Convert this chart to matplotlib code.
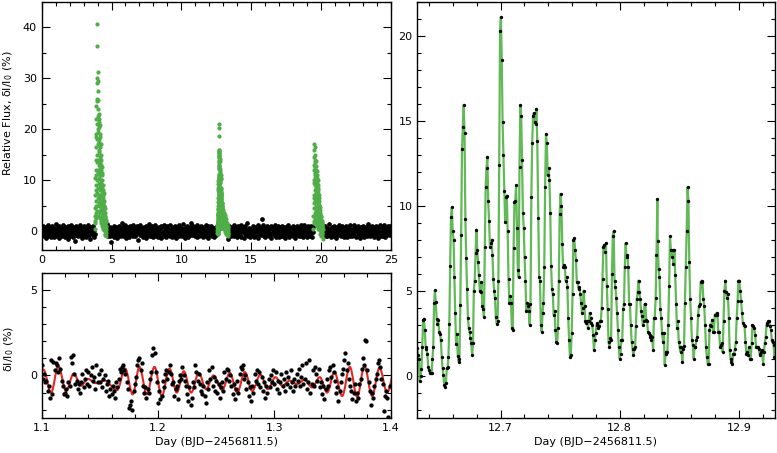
import matplotlib

matplotlib.use('Agg')

import matplotlib.pyplot as plt
import numpy as np
from matplotlib.path import Path
from matplotlib.patches import PathPatch
from matplotlib.ticker import FormatStrFormatter, MultipleLocator

# ---------------- top-left: 25 day light curve ----------------
# quiescent flux (black), four stretches between the bursts
quiet_bounds = [(0.0, 3.80), (4.62, 12.55), (13.37, 19.45), (20.22, 25.0)]
quiet_counts = [108, 224, 172, 136]
quiet_flux = [
    0.4, -0.7, 1.1, -0.2, -1.0, 0.3, 0.8, -0.5, 0.0, -1.3, 0.6, -0.3, 1.2, -0.9, 0.2, -0.1, 0.9, -0.6, 0.5, -1.1,
    -0.4, 1.0, -0.8, 0.1, 0.7, -1.2, 0.3, -0.5, 1.4, -0.2, -0.9, 0.6, 0.0, -0.7, 1.1, -1.4, 0.4, 0.2, -0.3, 0.8,
    -1.0, 0.5, -0.1, 1.3, -0.6, 0.2, -1.1, 0.9, -0.4, 0.6, -0.8, 0.1, 1.0, -1.5, 0.3, -0.2, 0.7, -0.9, 0.4, -0.5,
    1.2, -0.3, 0.0, -1.2, 0.8, -0.6, 0.5, -2.0, 0.3, 1.1, -0.7, 0.2, -0.4, 0.9, -1.0, 0.6, -0.1, 1.3, -0.8, 0.1,
    -0.6, 0.7, -1.3, 0.4, -0.2, 1.0, -0.9, 0.3, -0.5, 0.8, -1.1, 0.0, 0.6, -0.4, 1.2, -0.7, 0.2, -1.6, 0.5, -0.3,
    0.9, -0.1, 0.4, -0.8, 1.1, -1.2, 0.2, -0.5, 0.7, -0.3, 1.4, -0.9, 0.1, -0.6, 0.5, -1.0, 0.8, -0.2, -2.2, 0.3,
    -0.8, 0.6, -0.3, 1.0, -1.1, 0.4, -0.7, 0.2, 0.9, -0.4, -1.3, 0.5, -0.1, 1.1, -0.6, 0.3, -0.9, 0.7, -0.2, 1.5,
    0.1, -1.0, 0.8, -0.5, 0.3, -0.2, 1.2, -1.4, 0.6, -0.7, 0.0, 0.9, -0.3, 0.4, -1.2, 1.0, -0.6, 0.2, -0.8, 0.5,
    -0.2, 1.3, -0.9, 0.5, -0.4, 0.7, -1.0, 0.1, -0.6, 1.1, -0.3, 0.4, -1.7, 0.8, -0.1, 0.6, -0.8, 1.2, -0.5, 0.0,
    0.7, -0.6, 0.2, -1.1, 0.9, -0.3, 0.5, -0.8, 1.0, -1.3, 0.3, -0.2, 0.8, -0.7, 0.1, 1.4, -1.0, 0.4, -0.4, -0.9,
    1.0, -0.4, -1.2, 0.6, 0.1, -0.7, 1.3, -0.2, 0.4, -0.9, 0.7, -0.5, 0.0, -1.1, 0.9, -0.3, 0.5, -0.6, 1.1, -1.4,
    -0.5, 0.8, -0.1, -1.0, 1.2, -0.6, 0.3, -0.3, 0.6, -1.2, 0.2, 1.0, -0.8, 0.5, -0.4, 0.1, -0.9, 1.3, -0.2, 0.4,
    0.3, -1.1, 0.9, -0.4, 0.0, 0.7, -0.7, 1.1, -1.3, 0.5, -0.2, 0.8, -0.6, 0.2, 1.2, -1.0, 0.4, -0.5, 0.6, -0.1,
    -0.9, 0.2, 1.4, -0.6, 0.5, -0.3, -1.4, 0.7, 0.1, -0.8, 1.0, -0.2, 0.3, -1.1, 0.6, -0.5, 0.9, -0.7, 0.0, 1.6,
    0.5, -0.8, 0.1, 1.1, -0.5, 0.4, -1.0, 0.8, -0.3, 0.2, -1.2, 1.3, -0.6, 0.0, 0.7, -0.9, 0.3, -0.4, 1.0, -0.7,
    -0.3, 0.6, -1.2, 0.2, 0.9, -0.6, 0.4, -0.1, -0.9, 1.2, -0.4, 0.5, -0.8, 1.0, -1.3, 0.3, -0.2, 0.8, -0.5, 0.1,
    1.1, -0.9, 0.3, -0.5, 0.7, -1.1, 0.0, 0.6, -0.3, 0.9, -0.7, 0.2, -1.5, 0.4, 1.0, -0.2, 0.5, -1.0, 0.8, -0.6,
    -0.1, 0.4, -0.7, 1.3, -1.0, 0.2, 0.8, -0.4, 0.5, -1.2, 0.1, -0.6, 1.1, -0.3, 0.7, -0.8, 0.0, 1.2, -1.1, 0.3,
    0.6, -0.2, 0.9, -1.3, 0.4, -0.5, 1.0, -0.8, 0.2, -0.1, 1.5, -0.9, 0.3, -0.6, 0.7, -1.2, 0.5, -0.3, 0.1, -0.7,
    -0.7, 1.0, -0.4, 0.3, -1.1, 0.8, -0.2, 0.5, -0.9, 0.1, 0.6, -1.4, 1.2, -0.5, 0.2, -0.3, 0.9, -0.8, 0.4, 2.3,
    0.2, -0.6, 1.2, -0.9, 0.5, -0.1, -1.2, 0.7, -0.4, 1.0, -0.7, 0.3, -0.2, 0.8, -1.0, 0.4, -0.5, 1.1, -1.3, 0.6,
    -0.4, 0.9, -0.3, 0.1, -0.8, 1.3, -0.6, 0.4, -1.1, 0.7, 0.0, -0.5, 1.0, -1.2, 0.3, -0.2, 0.8, -0.9, 0.5, -0.1,
    1.0, -1.0, 0.5, -0.3, 0.8, -0.7, 0.2, -1.4, 0.9, -0.1, 0.4, -0.6, 1.2, -0.4, 0.1, -1.1, 0.6, -0.2, 0.7, -0.8,
    -0.6, 0.3, -0.9, 1.1, -0.2, 0.6, -1.3, 0.2, 0.9, -0.5, -0.8, 1.0, -0.3, 0.5, -1.0, 0.7, -0.4, 0.2, 1.3, -0.9,
    0.4, -0.5, 0.7, -1.1, 0.0, 1.2, -0.7, 0.3, -0.2, 0.8, -1.2, 0.5, -0.6, 1.0, -0.1, 0.3, -0.9, 0.6, -0.4, 1.1,
    -1.2, 0.6, -0.2, 0.9, -0.6, 0.1, 1.1, -0.9, 0.4, -0.3, 0.7, -1.0, 0.2, -0.5, 1.4, -0.8, 0.0, 0.5, -1.1, 0.3,
    0.8, -0.3, -1.0, 0.5, -0.7, 1.0, -0.1, 0.3, -1.3, 0.6, -0.4, 0.9, -0.8, 0.2, -0.2, 1.2, -0.6, 0.4, -0.9, 0.1,
    -0.2, 1.1, -0.8, 0.3, 0.6, -1.1, 0.5, -0.4, 1.0, -0.6, 0.1, -1.2, 0.8, -0.3, 0.4, -0.7, 1.3, -1.0, 0.2, -0.5,
    0.5, -0.9, 0.2, -0.4, 1.2, -0.7, 0.0, 0.8, -1.1, 0.3, -0.2, 0.7, -0.9, 1.1, -0.5, 0.4, -1.3, 0.6, -0.1, 0.9,
    -0.8, 0.4, -0.3, 1.0, -1.2, 0.6, -0.5, 0.2, 0.9, -0.7, 0.3, -1.0, 1.4, -0.2, 0.5, -0.6, 0.1, -0.9, 0.8, -0.4,
    0.1, -0.7, 1.1, -0.3, 0.5, -1.1, 0.7, -0.2, 0.4, -0.8, 1.0, -0.5, 0.0, -1.4, 0.9, -0.1, 0.6, -0.6, 1.2, -1.0,
    -0.5, 0.8, -0.2, 0.3, -0.9, 1.3, -0.4, 0.6, -1.2, 0.2, 0.7, -0.3, -0.8, 1.0, -0.6, 0.4, -0.1, 1.1, -0.7, 0.5,
]

# burst 1 (day ~3.8-4.6)
burst1_span = (3.82, 4.60)
burst1_flux = [
    0.5, 2.0, 4.5, 1.5, 7.0, 3.0, 10.5, 5.0, 14.0, 2.5, 12.0, 8.0,
    18.5, 6.0, 22.0, 11.0, 3.5, 16.5, 24.5, 9.0, 19.0, 4.0, 25.5, 13.5, 7.5, 21.0, 29.0, 15.0,
    10.0, 30.0, 36.3, 40.6, 18.0, 26.0, 5.0, 31.2, 22.5, 12.0, 29.5, 17.0, 8.5, 27.5, 20.0, 14.0,
    24.0, 6.5, 19.5, 25.8, 11.5, 3.0, 21.5, 16.0, 9.5, 23.0, 13.0, 5.5, 20.5, 18.0, 7.0, 15.5,
    22.0, 10.5, 4.0, 17.5, 12.5, 19.0, 6.0, 14.5, 2.5, 20.8, 9.0, 16.5, 11.0, 5.0, 18.5, 8.0,
    13.5, 3.5, 15.0, 10.0, 6.5, 17.0, 2.0, 12.0, 8.5, 14.0, 4.5, 11.5, 7.0, 1.5, 13.0, 9.5,
    5.5, 11.0, 3.0, 9.0, 12.5, 6.0, 1.0, 10.0, 7.5, 2.5, 8.5, 4.0, 11.5, 5.0, 0.5, 7.0,
    9.0, 3.5, 6.5, 1.5, 8.0, 4.5, 2.0, 7.0, 5.5, 0.8, 6.0, 3.0, 4.0, 7.5, 1.0, 5.0,
    2.5, 4.5, 0.5, 6.0, 3.5, 1.5, 5.0, 2.0, 3.0, 0.2, 4.0, 1.0, 2.8, 4.5, -0.5, 2.0,
    3.5, 1.2, 0.0, 2.5, 1.8, -0.8, 3.0, 0.5, 1.5, 2.2, -0.3, 1.0, 0.3, 1.8, -1.0, 0.6,
]

# burst 3 (day ~19.5-20.1)
burst3_span = (19.46, 20.12)
burst3_flux = [
    0.5, 3.0, 6.5, 2.0, 9.5, 4.5, 12.0, 1.5, 14.5, 7.0, 16.0, 10.0,
    17.0, 5.5, 13.0, 16.5, 8.0, 11.5, 15.0, 3.5, 12.5, 9.0, 14.0, 6.0, 10.5, 13.5, 2.5, 11.0,
    7.5, 12.0, 4.0, 13.8, 9.5, 1.5, 11.0, 6.5, 12.8, 3.0, 8.5, 10.0, 5.0, 11.8, 2.0, 9.0,
    6.0, 10.5, 3.5, 8.0, 11.0, 1.0, 7.0, 9.5, 4.5, 2.5, 8.5, 5.5, 10.0, 0.5, 6.5, 3.0,
    7.5, 4.0, 9.0, 1.5, 5.5, 8.0, 2.5, 6.0, 3.5, 7.0, 0.8, 4.5, 5.0, 2.0, 6.5, 1.2,
    3.8, 5.2, 0.5, 4.0, 2.5, 4.8, 1.0, 3.2, -0.5, 2.8, 4.2, 1.5, 3.0, 0.2, 2.2, 3.6,
    1.0, 2.5, -1.0, 3.0, 1.8, 0.4, 2.2, -0.2, 1.5, 2.8, 0.0, 1.2, -0.6, 2.0, 0.8, 1.6,
    -0.3, 1.4, 0.6, 2.0, -0.8, 1.0, 0.2, 1.7, -0.4, 0.9, 0.3, 1.2, -1.5, 0.5,
]

# burst 2 around the zoomed window (before / after the right panel range)
burst2_pre_span = (12.56, 12.625)
burst2_pre_flux = [0.3, 1.2, -0.4, 0.8, 1.6, 0.1, 1.0, 2.0]
burst2_post_span = (12.935, 13.35)
burst2_post_flux = [
    2.8, 1.5, 3.4, 2.0, 0.9, 2.6, 3.8, 1.2, 2.2, 4.2, 1.8, 0.6, 3.0, 2.4, 1.0, 3.5, 2.1, 0.4, 2.9, 1.6,
    1.1, 2.7, 0.8, 3.2, 1.9, 0.3, 2.3, 1.4, 2.8, 0.7, 1.7, -0.2, 2.0, 1.2, 0.5, 2.4, 1.0, -0.5, 1.6, 0.9,
    0.2, 1.8, 1.1, -0.3, 1.4, 0.6, -0.8, 1.2, 0.4, 0.9, -0.1, 1.5, 0.3, -0.6, 0.8, 0.1, 1.0, -0.4, 0.5, -1.0,
]

# ---------------- right: zoom on burst 2 ----------------
zoom_spans = [(12.62994, 12.73078), (12.73162, 12.83162), (12.83191, 12.92994)]
zoom_flux_a = [
    1.64, 1.21, 0.98, -0.31, 0.0, 0.38, 1.7, 3.26, 3.36, 2.68, 1.7, 1.6, 1.3, 0.53, 0.33, 0.18, 0.14, 0.14, 0.96, 1.7,
    4.26, 5.02, 4.33, 3.36, 3.07, 3.26, 2.58, 2.48, 2.1, 1.12, 0.43, 0.04, -0.54, -0.64, -0.4, 0.43, 0.5, 1.12, 3.07, 6.45,
    9.32, 9.9, 8.5, 8.0, 5.8, 3.67, 1.86, 2.43, 1.17, 0.84, 0.97, 4.14, 8.27, 13.33, 14.64, 15.93, 14.25, 9.2, 6.9, 5.1,
    3.4, 2.8, 2.55, 2.2, 1.9, 1.2, 1.9, 5.0, 5.6, 7.2, 8.6, 7.4, 6.7, 5.9, 5.0, 4.9, 5.5, 4.1, 3.9, 3.45,
    7.6, 11.1, 12.25, 12.87, 10.3, 9.12, 7.6, 7.8, 8.0, 7.1, 5.7, 5.0, 4.6, 3.45, 3.07, 3.2, 5.6, 12.4, 20.3, 21.1,
    18.6, 14.9, 13.0, 10.86, 9.05, 10.5, 10.6, 8.5, 5.7, 4.3, 4.7, 4.3, 2.8, 2.7, 7.5, 10.2, 10.3, 11.2, 8.7, 6.2,
    5.8, 12.3, 15.9, 15.3, 12.7, 9.6, 8.7, 7.0, 5.6, 3.8, 4.3, 4.1, 3.8, 3.0, 4.2, 10.5, 13.7, 15.3, 15.45, 14.9,
    14.8, 15.7, 13.8,
]
zoom_flux_b = [
    9.3, 5.8, 5.6, 3.0, 2.6, 3.7, 4.3, 6.4, 11.1, 14.2, 13.7, 11.8, 12.2, 11.5, 9.6, 6.45, 5.1, 4.8, 3.6, 3.8,
    2.7, 2.0, 1.9, 2.8, 5.6, 9.5, 10.7, 10.0, 7.75, 6.4, 6.5, 6.4, 5.6, 5.8, 5.2, 3.4, 2.1, 1.1, 1.2, 2.5,
    4.8, 8.0, 8.1, 7.4, 6.8, 5.5, 5.5, 5.1, 5.2, 4.8, 4.3, 3.7, 4.0, 5.0, 4.1, 3.2, 3.1, 3.2, 2.8, 3.2,
    3.7, 3.4, 3.1, 3.0, 2.4, 1.5, 2.1, 2.5, 3.0, 3.1, 2.8, 2.9, 3.2, 3.2, 4.0, 5.7, 7.6, 7.7, 7.3, 7.8,
    5.3, 3.9, 2.0, 1.7, 2.2, 2.1, 6.0, 8.25, 8.5,
    5.6, 5.2, 4.6, 3.7, 2.7, 1.7, 1.0, 1.3, 2.1, 2.1, 3.9, 4.2, 6.4, 7.8, 7.0, 7.1, 6.4, 4.25, 4.2, 3.0,
    2.0, 1.6, 1.2, 1.6, 1.7, 2.9, 4.5, 4.9, 5.6, 4.9, 4.5, 3.8, 3.5, 3.0, 3.2, 4.2, 4.2, 3.3, 3.2, 2.6,
    2.5, 2.4, 2.3, 2.1, 2.3, 1.5, 3.4, 3.4, 4.6, 7.1, 10.4,
]
zoom_flux_c = [
    7.9, 6.3, 5.8, 3.95, 3.4, 2.5, 2.0, 2.5, 0.63, 1.3, 1.4, 1.4, 3.0, 5.3, 8.2, 7.4, 7.0, 7.4, 6.6, 7.4,
    5.9, 4.2, 2.8, 3.2, 2.0, 1.7, 1.4, 1.7, 0.8, 1.6, 1.75, 4.3, 6.4, 8.5, 11.1, 10.3, 6.7, 4.5, 3.4, 2.1,
    1.8, 1.0, 1.7, 1.7, 2.1, 2.3, 3.6, 4.1, 4.2, 5.5, 5.6, 5.5, 4.5, 4.1, 3.0, 1.7, 1.1, 0.7, 0.7, 2.7,
    3.0, 2.9, 3.3, 2.6, 2.6, 3.6, 3.6, 3.7, 3.6, 2.6, 2.6, 1.7, 1.8, 1.9, 1.4, 3.2, 5.0, 5.6, 4.9, 4.6,
    4.8, 3.4, 1.5, 1.0, 0.8, 0.7, 1.3, 1.3, 1.6, 2.0, 3.4, 4.4, 5.6, 5.6, 5.0, 4.4, 3.7, 3.1, 3.0, 2.9,
    2.0, 1.3, 1.4, 1.2, 1.7, 1.0, 1.0, 1.9, 3.0, 2.9, 2.8, 2.4, 1.7, 1.7, 1.7, 1.6, 1.3, 1.2, 1.4, 1.5,
    0.7, 1.4, 1.9, 2.3, 3.0, 3.1, 3.2, 3.2, 2.9, 2.7, 2.1, 2.0, 1.8, 1.1,
]

# ---------------- bottom-left: quiescent oscillations ----------------
osc_span = (1.100, 1.399)
osc_flux = [
    0.6, -0.2, 0.1, -0.4, -0.3, -0.9, -0.6, -1.3, 0.9, -1.1,
    0.8, 0.3, 0.7, 0.6, 0.2, 1.0, 0.4, -0.3, -0.6, -1.1,
    -1.0, -0.8, -1.2, -0.4, -0.6, 1.1, 0.7, 1.2, 0.1, -0.5,
    -0.3, -0.8, -0.5, -1.0, -0.4, 0.1, -0.7, -0.2, 0.3, -0.5,
    0.2, -0.6, 0.0, 0.5, -0.3, -0.1, -0.8, 0.6, -0.4, 0.1,
    -0.4, 0.3, -0.7, -0.2, 0.0, -0.9, -0.5, -0.3, -1.2, -0.8,
    -1.1, -0.6, -0.9, -1.3, -0.4, -0.7, -0.2, 0.4, 0.2, 0.5,
    0.6, 0.3, 0.1, -0.4, -0.8, -1.9, -1.7, -1.5, -2.0, -0.9,
    -0.5, -0.1, 0.6, 0.9, 1.0, 0.3, 0.7, -0.6, -1.0, -0.7,
    -1.3, -0.8, -1.0, -0.2, 0.2, 1.2, 1.6, 1.3, 0.2, -0.4,
    -1.6, -0.9, -1.4, -1.2, -0.3, -0.7, 0.1, 0.3, -0.2, 0.2,
    0.6, 0.1, -0.5, -0.4, -1.2, -0.8, -0.6, -1.4, -0.3, 0.0,
    -0.2, 0.5, 0.0, -0.3, -0.6, -1.1, -1.5, -0.7, -1.7, -1.3,
    -0.4, -0.7, 0.6, 0.2, -0.3, 0.1, -0.5, -0.9, -1.1, -0.6,
    -1.2, -1.6, -0.4, -0.8, 0.3, -0.2, 0.5, -0.6, -0.1, -0.9,
    -0.3, -1.0, -0.5, -1.3, -0.7, -0.4, -0.9, 0.2, -0.2, 0.4,
    0.3, -0.3, 0.0, -0.6, -1.1, -0.5, -1.4, -0.8, -0.3, -1.0,
    0.1, 0.5, 0.4, 0.6, -0.2, 0.0, -0.8, -0.4, -1.2, -0.7,
    -1.5, -0.6, -1.0, 0.1, -0.3, 0.3, -0.5, 0.2, -0.7, -0.1,
    -0.9, -0.4, -1.3, -0.6, -1.0, -0.2, -0.7, 0.0, -0.4, 0.3,
    -0.5, 0.2, -0.8, -0.3, -1.0, -0.4, 0.1, -0.6, -0.2, -0.9,
    0.2, -0.5, -0.1, -0.7, 0.3, -0.4, -0.9, -0.2, -0.6, 0.1,
    -0.3, 0.4, -0.6, -0.1, 0.6, -0.5, -0.2, 0.7, -0.8, -0.4,
    0.9, -1.0, -0.5, 0.3, -0.6, 0.5, 0.1, -0.3, 0.4, -0.7,
    -0.4, -1.1, -0.6, -1.4, -0.8, -0.2, -0.6, 0.3, 0.5, -0.1,
    0.6, 0.2, -0.3, -1.0, -0.7, -1.5, -0.9, -0.4, 0.1, 0.4,
    0.9, 1.3, 0.3, 0.7, -0.2, -0.6, -0.9, -1.4, -1.0, -0.5,
    -1.5, -1.0, -1.3, -0.5, -0.2, 0.4, 1.0, 0.6, 2.1, 2.0,
    0.3, -0.4, -0.9, -1.7, -1.0, -1.3, -0.6, -0.2, 0.1, 0.7,
    0.9, 0.5, -0.2, -0.5, -2.1, -1.2, -0.9, -1.3, -2.4, -0.6,
]
# model curve: successive maxima / minima (day, flux)
model_ext_t = [1.0950, 1.1014, 1.1080, 1.1143, 1.1209, 1.1275, 1.1338, 1.1396, 1.1467, 1.1539,
               1.1648, 1.1717, 1.1782, 1.1840, 1.1903, 1.1969, 1.2032, 1.2098, 1.2161, 1.2221,
               1.2284, 1.2350, 1.2413, 1.2476, 1.2551, 1.2617, 1.2680, 1.2746, 1.2809, 1.2880,
               1.2943, 1.3009, 1.3066, 1.3132, 1.3195, 1.3259, 1.3324, 1.3390, 1.3453, 1.3516,
               1.3582, 1.3648, 1.3711, 1.3774, 1.3840, 1.3903, 1.3969, 1.4035]
model_ext_v = [-0.9, 0.35, -1.0, 0.55, -0.9, 0.1, -0.6, -0.2, -0.45, -0.3,
               -0.85, 0.4, -1.1, 0.5, -1.1, 0.5, -1.2, 0.4, -1.0, 0.25,
               -1.0, 0.15, -0.8, 0.0, -0.85, 0.15, -1.0, 0.2, -0.9, 0.05,
               -0.8, -0.1, -0.6, -0.3, -0.5, -0.25, -0.7, -0.1, -1.0, 0.2,
               -1.2, 0.5, -1.25, 0.55, -1.2, 0.45, -1.0, 0.3]

GREEN_DOT = '#4fae47'
GREEN_LINE = '#62b957'
RED = '#e8261f'
DAY_LABEL = 'Day (BJD\u22122456811.5)'


def style_axis(ax, xmaj, xmin, ymaj, ymin, xfmt, yfmt):
    ax.xaxis.set_major_locator(MultipleLocator(xmaj))
    ax.xaxis.set_minor_locator(MultipleLocator(xmin))
    ax.yaxis.set_major_locator(MultipleLocator(ymaj))
    ax.yaxis.set_minor_locator(MultipleLocator(ymin))
    ax.xaxis.set_major_formatter(FormatStrFormatter(xfmt))
    ax.yaxis.set_major_formatter(FormatStrFormatter(yfmt))
    ax.tick_params(which='both', direction='in', top=True, right=True,
                   labelsize=8, width=0.8, pad=3.5)
    ax.tick_params(which='major', length=6)
    ax.tick_params(which='minor', length=3)
    for spine in ax.spines.values():
        spine.set_linewidth(1.0)


def segment_times(bounds, counts):
    return np.concatenate([np.linspace(a, b, n) for (a, b), n in zip(bounds, counts)])


def model_path(ts, vs, k=0.36):
    verts = [(ts[0], vs[0])]
    codes = [Path.MOVETO]
    for i in range(1, len(ts)):
        dt = ts[i] - ts[i - 1]
        verts += [(ts[i - 1] + k * dt, vs[i - 1]), (ts[i] - k * dt, vs[i]), (ts[i], vs[i])]
        codes += [Path.CURVE4] * 3
    return Path(verts, codes)


fig = plt.figure(figsize=(7.77, 4.53), dpi=100)
ax_lc = fig.add_axes([0.0537, 0.4481, 0.4492, 0.5481])
ax_osc = fig.add_axes([0.0537, 0.0766, 0.4492, 0.3214])
ax_zoom = fig.add_axes([0.5373, 0.0766, 0.4595, 0.9196])

# top-left
quiet_t = segment_times(quiet_bounds, quiet_counts)
zoom_t = np.concatenate([np.linspace(a, b, len(f)) for (a, b), f in
                         zip(zoom_spans, [zoom_flux_a, zoom_flux_b, zoom_flux_c])])
zoom_f = np.concatenate([zoom_flux_a, zoom_flux_b, zoom_flux_c])
burst_t = np.concatenate([
    np.linspace(*burst1_span, len(burst1_flux)),
    np.linspace(*burst2_pre_span, len(burst2_pre_flux)),
    zoom_t,
    np.linspace(*burst2_post_span, len(burst2_post_flux)),
    np.linspace(*burst3_span, len(burst3_flux)),
])
burst_f = np.concatenate([burst1_flux, burst2_pre_flux, zoom_f, burst2_post_flux, burst3_flux])

ax_lc.plot(quiet_t, quiet_flux, 'o', color='black', ms=3.4, mew=0)
ax_lc.plot(burst_t, burst_f, 'o', color=GREEN_DOT, ms=3.0, mew=0)
ax_lc.set_xlim(0, 25)
ax_lc.set_ylim(-3.7, 45)
style_axis(ax_lc, 5, 1, 10, 5, '%d', '%d')
ax_lc.set_ylabel('Relative Flux, \u03b4I/I$_0$ (%)', fontsize=8)
ax_lc.yaxis.set_label_coords(-0.078, 0.55)

# bottom-left
osc_t = np.linspace(*osc_span, len(osc_flux))
ax_osc.plot(osc_t, osc_flux, 'o', color='black', ms=3.1, mew=0)
ax_osc.add_patch(PathPatch(model_path(model_ext_t, model_ext_v), fill=False,
                           edgecolor=RED, lw=1.5))
ax_osc.set_xlim(1.1, 1.4)
ax_osc.set_ylim(-2.5, 6)
style_axis(ax_osc, 0.1, 0.02, 5, 1, '%.1f', '%d')
ax_osc.set_ylabel('\u03b4I/I$_0$ (%)', fontsize=8)
ax_osc.yaxis.set_label_coords(-0.075, 0.48)
ax_osc.set_xlabel(DAY_LABEL, fontsize=8, labelpad=3)

# right
ax_zoom.plot(zoom_t, zoom_f, '-', color=GREEN_LINE, lw=1.6)
ax_zoom.plot(zoom_t, zoom_f, 'o', color='black', ms=2.4, mew=0)
ax_zoom.set_xlim(12.6302, 12.930)
ax_zoom.set_ylim(-2.5, 22)
style_axis(ax_zoom, 0.1, 0.02, 5, 1, '%.1f', '%d')
ax_zoom.set_xlabel(DAY_LABEL, fontsize=8, labelpad=3)

fig.savefig('out.png', dpi=100)
